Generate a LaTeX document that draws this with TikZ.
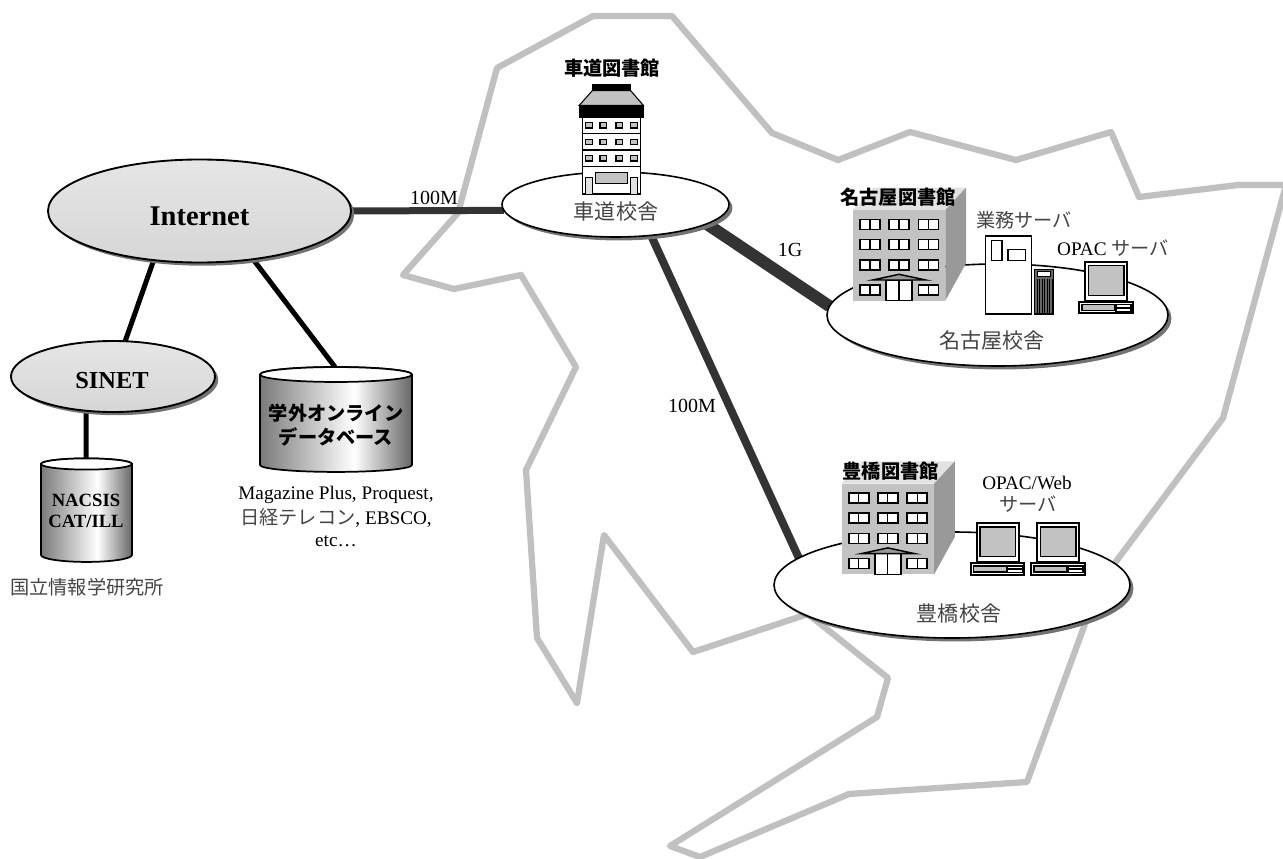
\documentclass[tikz,border=0pt]{standalone}
\usepackage{fontspec}
\usetikzlibrary{shapes.geometric,shadows,backgrounds}
\setmainfont{Liberation Serif}
\newfontfamily\cjk{Noto Sans CJK JP}
\definecolor{mapgray}{HTML}{C0C0C0}
\definecolor{linkgray}{HTML}{333333}
\definecolor{cjkgray}{HTML}{444444}
\definecolor{wallgray}{HTML}{C2C2C2}
\definecolor{sidegray}{HTML}{999999}
\definecolor{topgray}{HTML}{E2E2E2}
\pgfdeclarehorizontalshading{cylshade}{100bp}{color(0bp)=(black!52);color(25bp)=(black!52);color(56bp)=(white);color(75bp)=(black!60);color(100bp)=(black!60)}
\newcommand{\fs}[1]{\fontsize{#1}{#1}\selectfont}
\newcommand{\jp}[1]{{\cjk\addfontfeature{}#1}}
\tikzset{
  cloudnode/.style={ellipse,draw=black,line width=1.4pt,inner sep=0pt,outer sep=0pt,
    top color=black!10,bottom color=black!16,
    drop shadow={shadow xshift=2.4pt,shadow yshift=-2.4pt,opacity=1,fill=black!55}},
  campus/.style={ellipse,draw=black,line width=1.2pt,inner sep=0pt,outer sep=0pt,fill=white,
    drop shadow={shadow xshift=2.6pt,shadow yshift=-2.6pt,opacity=1,fill=black!55}},
  plain/.style={inner sep=0pt,outer sep=0pt,align=center,font=\fs{14.4}},
  camp/.style={inner sep=0pt,outer sep=0pt,font=\fs{15.8}\cjk,text=cjkgray},
  jplabel/.style={inner sep=0pt,outer sep=0pt,font=\fs{14.4}\cjk,text=cjkgray},
  libname/.style={inner sep=0pt,outer sep=0pt,font=\fs{14.4}\cjk\bfseries},
  blacklink/.style={line width=3.75pt,black},
  darklink/.style={line width=5.25pt,linkgray},
  mapline/.style={line width=4.7pt,mapgray,line join=round},
  part/.style={draw=black,line width=1.1pt},
}
\newcommand{\win}[2]{\draw[part,fill=white] (#1,#2) rectangle ++(20,10); \draw[black,line width=.9pt] (#1+10,#2) -- ++(0,10);}
\newcommand{\officeblock}[2]{%
\begin{scope}[shift={(#1,#2)}]
  \fill[topgray] (852.7,210) -- (873,187.7) -- (966,187.7) -- (945.3,210) -- cycle;
  \fill[sidegray] (945.3,210) -- (966,187.7) -- (966,263.3) -- (945.3,300.7) -- cycle;
  \fill[wallgray] (852.7,210) rectangle (945.3,300.7);
  \foreach \wx in {860,889,918.3}{\foreach \wy in {219.3,239.3,260}{\win{\wx}{\wy}}}
  \win{860}{285}\win{918.3}{285}
  \draw[part,fill=white] (886,280) rectangle (912,300.7);
  \draw[black,line width=.9pt] (899,280) -- (899,300.7);
  \draw[part,fill=sidegray] (872.7,280) -- (899,274.3) -- (925.7,280) -- cycle;
\end{scope}}
\newcommand{\terminal}[2]{%
\begin{scope}[shift={(#1,#2)}]
  \draw[part,line width=1.3pt,fill=white] (1085.3,262) rectangle (1127.3,300.7);
  \draw[part,fill=wallgray] (1088.7,265.7) rectangle (1124,295.3);
  \draw[part,line width=1.4pt,fill=white] (1079.3,302) rectangle (1133,313.3);
  \draw[black,line width=.8pt,fill=wallgray] (1082,304.7) rectangle (1114.7,310.7);
  \draw[black,line width=.8pt] (1116,304.7) rectangle (1131,307.2);
  \draw[black,line width=.8pt] (1116,308) rectangle (1131,311.3);
\end{scope}}
\begin{document}
\begin{tikzpicture}[x=0.75pt,y=-0.75pt]
\useasboundingbox (0,0) rectangle (1283,859);
\clip (0,0) rectangle (1283,859);
% clouds and campuses
\node[cloudnode,minimum width=227.25pt,minimum height=77.25pt] (internet) at (199.5,211) {};
\node[cloudnode,minimum width=153pt,minimum height=53.25pt] (sinet) at (113,376.5) {};
\node[campus,minimum width=170.25pt,minimum height=48.75pt] (kuruma) at (615.5,204.5) {};
\node[campus,minimum width=255.75pt,minimum height=76.5pt] (nagoya) at (997.5,315) {};
\node[campus,minimum width=267pt,minimum height=79.5pt] (toyo) at (952,585) {};
% databases
\coordinate (dbtop) at (335,367);
\coordinate (natop) at (86,458);
\path[part,line width=1.3pt,draw,shade,shading=cylshade] (260,374.5) -- (260,465) arc[start angle=180,end angle=360,x radius=57pt,y radius=5.2pt] -- (412,374.5) arc[start angle=0,end angle=180,x radius=57pt,y radius=5.6pt] -- cycle;
\draw[part,line width=1.3pt,fill=white] (336,374.5) ellipse[x radius=57pt,y radius=5.6pt];
\path[part,line width=1.3pt,draw,shade,shading=cylshade] (41,464) -- (41,555) arc[start angle=180,end angle=360,x radius=34.1pt,y radius=5.2pt] -- (132,464) arc[start angle=0,end angle=180,x radius=34.1pt,y radius=4.2pt] -- cycle;
\draw[part,line width=1.3pt,fill=white] (86.5,464) ellipse[x radius=34.1pt,y radius=4.2pt];
% map outline and connectors, behind the ellipses
\begin{pgfonlayer}{background}
\draw[mapline] (497,68) -- (593,16) -- (672,16) -- (772,133) -- (838,160) -- (910,132) -- (1016,160) -- (1111,132) -- (1139,197) -- (1238,185) -- (1286,185) -- (1223,418) -- (1100,583) -- (1027,782) -- (849,794) -- (700,857) -- (670,846) -- (877,717) -- (888,678) -- (808,614) -- (693,652) -- (604,535) -- (577,703) -- (537,638) -- (526,470) -- (576,367) -- (521,275) -- (454,289) -- (403,275) -- (458,213) -- cycle;
\draw[blacklink] (internet.227.7) -- (sinet.71.4);
\draw[blacklink] (internet.-42.3) -- (dbtop);
\draw[blacklink] (sinet.-128.3) -- (natop);
\draw[darklink] (internet.east) -- (kuruma.183.3);
\draw[line width=9pt,linkgray] (kuruma.-12.1) -- (nagoya.177.3);
\draw[line width=6pt,linkgray] (kuruma.-41.1) -- (toyo.170.5);
\end{pgfonlayer}
% Kuruma-michi library
\draw[black,line width=.9pt,fill=white] (582.7,117.7) rectangle (640.3,194);
\foreach \fy in {133.3,150,166.7}{\draw[black,line width=.9pt] (582.7,\fy) -- (640.3,\fy);}
\foreach \wx in {589,603.3,619.3,634}{\foreach \wy in {125.3,142,158.3}{\draw[black,line width=1pt,fill=wallgray] (\wx-3.2,\wy-2.6) rectangle (\wx+3.2,\wy+2.6);}}
\draw[black,line width=.8pt,fill=wallgray] (595.3,172.3) rectangle (627.7,183.3);
\draw[black,line width=.7pt,fill=topgray] (585.7,177.7) rectangle (592.3,194);
\draw[black,line width=.7pt,fill=topgray] (630.7,177.7) rectangle (637.3,194);
\draw[black,line width=.8pt,fill=wallgray] (592.3,90.7) -- (630.7,90.7) -- (643.3,105.3) -- (579.3,105.3) -- cycle;
\fill[black] (592.3,84) rectangle (630.7,90.7);
\fill[black] (579.3,105.3) rectangle (643.7,117.7);
% Nagoya and Toyohashi buildings
\officeblock{0}{0}
\officeblock{-11.2}{273.6}
% server
\draw[part,fill=white] (985.7,236) rectangle (1031.7,314);
\draw[part,fill=white] (991.7,240.3) rectangle (1002,260.7);
\draw[part,fill=white] (1008,249.3) rectangle (1025.3,260.7);
\draw[part,fill=black!60] (1034.3,269.3) rectangle (1053.7,314);
\draw[black,line width=.7pt,fill=white] (1037.3,271.7) rectangle (1050.7,276.7);
\foreach \sx in {1037,1039.5,...,1052}{\draw[black,line width=.5pt] (\sx,279) -- (\sx,313);}
% terminals
\terminal{0}{0}
\terminal{-108.6}{261.3}
\terminal{-48}{261.3}
% labels
\node[inner sep=0pt,outer sep=0pt,font=\fs{21.4}\bfseries] (tinternet) at (199.5,216) {Internet};
\node[inner sep=0pt,outer sep=0pt,font=\fs{18.3}\bfseries] (tsinet) at (112,381) {SINET};
\node[inner sep=0pt,outer sep=0pt,align=center,font=\fs{14}\bfseries] (tnacsis) at (86,511) {NACSIS\\[1.4pt]CAT/ILL};
\node[jplabel] (tnii) at (87,587) {国立情報学研究所};
\node[libname,align=center] (tdb) at (336,425) {学外オンライン\\[3pt]データベース};
\node[plain] (tmag) at (336,495) {Magazine Plus, Proquest,};
\node[plain] (tnik) at (336,518) {\jp{\color{cjkgray}日経テレコン}, EBSCO,};
\node[plain] (tetc) at (336,541) {etc…};
\node[plain,font=\fs{15}] (l1) at (434,198) {100M};
\node[plain,font=\fs{15}] (l2) at (790,250) {1G};
\node[plain,font=\fs{15}] (l3) at (692,406) {100M};
\node[libname] (tkl) at (612,68) {車道図書館};
\node[camp] (tk) at (616,212) {車道校舎};
\node[libname] (tnl) at (898,197) {名古屋図書館};
\node[jplabel] (tgyo) at (1024,220) {業務サーバ};
\node[plain] (topac) at (1113,248) {OPAC \jp{\color{cjkgray}サーバ}};
\node[camp] (tn) at (992,340) {名古屋校舎};
\node[libname] (ttl) at (890.7,470.7) {豊橋図書館};
\node[plain] (tow) at (1027,483) {OPAC/Web};
\node[jplabel] (tsv) at (1028,504) {サーバ};
\node[camp] (tt) at (959,614) {豊橋校舎};
\end{tikzpicture}
\end{document}
